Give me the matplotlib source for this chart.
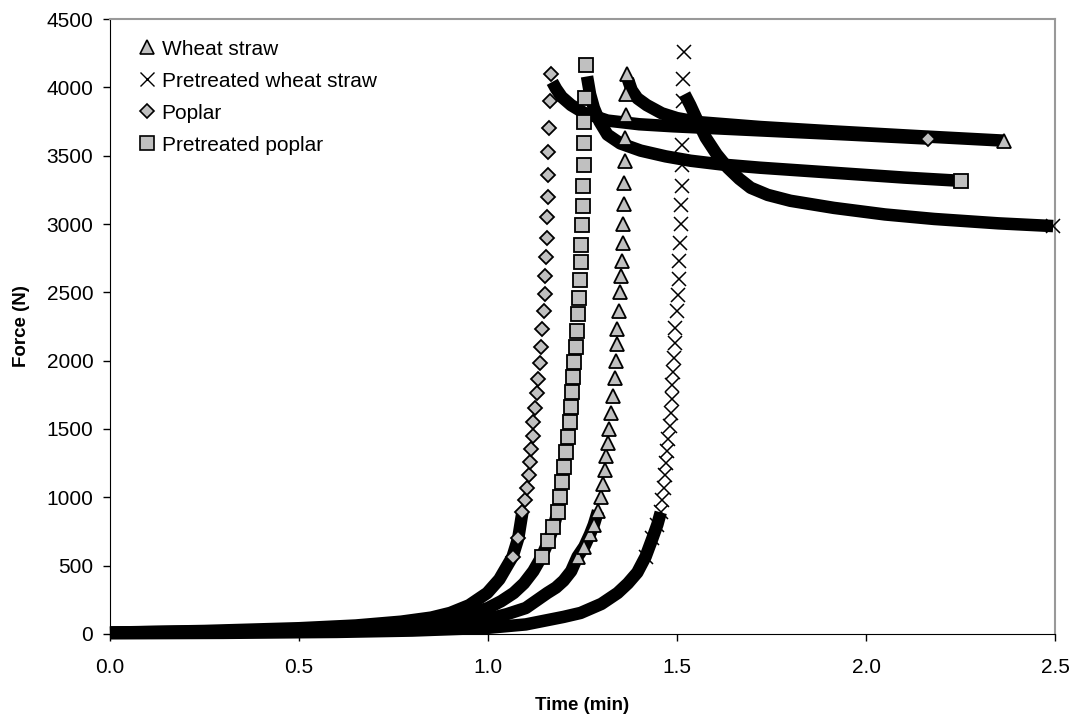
import matplotlib
matplotlib.use("Agg")
import matplotlib.pyplot as plt
import numpy as np

plt.rcParams['font.family'] = ['Liberation Sans', 'DejaVu Sans']

# Datos (tiempo en min, fuerza en N)
# Wheat straw
ws_t = [0.0, 0.3, 0.6, 0.8, 0.9, 1.0, 1.05, 1.1, 1.157, 1.18, 1.2, 1.22, 1.237, 1.255,
        1.27, 1.28, 1.291,
        1.298, 1.305, 1.309, 1.313, 1.317, 1.321, 1.326, 1.330, 1.335, 1.338, 1.340,
        1.342, 1.346, 1.349, 1.352, 1.355, 1.357, 1.358, 1.359, 1.360, 1.362, 1.363,
        1.365, 1.366, 1.367,
        1.37, 1.38, 1.395, 1.42, 1.46, 1.5, 1.56, 1.72, 1.9, 2.16, 2.365]
ws_f = [10, 15, 30, 55, 75, 110, 145, 190, 300, 340, 390, 460, 566, 640,
        730, 800, 900,
        1000, 1100, 1200, 1300, 1400, 1500, 1620, 1740, 1870, 2000, 2120,
        2230, 2360, 2500, 2620, 2730, 2860, 3000, 3150, 3300, 3460, 3630,
        3800, 3950, 4100,
        4060, 3980, 3920, 3870, 3810, 3775, 3745, 3710, 3680, 3640, 3610]

# Pretreated wheat straw
pws_t = [0.0, 0.3, 0.6, 0.8, 1.0, 1.1, 1.2, 1.245, 1.3, 1.343, 1.37, 1.395, 1.417,
         1.435, 1.448, 1.457,
         1.461, 1.465, 1.468, 1.471, 1.474, 1.477, 1.482, 1.484, 1.486, 1.488, 1.490,
         1.492, 1.494, 1.496, 1.499, 1.502, 1.504, 1.506, 1.508, 1.510, 1.511, 1.512,
         1.513, 1.514, 1.515, 1.516, 1.517, 1.518,
         1.52, 1.535, 1.555, 1.576, 1.605, 1.634, 1.665, 1.695, 1.74, 1.8, 1.915,
         2.05, 2.18, 2.35, 2.495]
pws_f = [5, 8, 15, 25, 45, 70, 125, 154, 220, 300, 370, 450, 566,
         700, 800, 890,
         980, 1070, 1160, 1250, 1340, 1430, 1520, 1620, 1720, 1820, 1920,
         2020, 2130, 2240, 2360, 2480, 2600, 2730, 2860, 3000, 3140, 3280,
         3430, 3580, 3740, 3900, 4060, 4260,
         3950, 3870, 3750, 3632, 3510, 3412, 3330, 3265, 3213, 3170, 3118,
         3070, 3037, 3005, 2985]

# Poplar
pop_t = [0.0, 0.25, 0.5, 0.65, 0.77, 0.85, 0.9, 0.95, 0.998, 1.03, 1.065, 1.08, 1.091,
         1.097, 1.103, 1.108, 1.112, 1.115, 1.118, 1.120, 1.125, 1.129, 1.133, 1.137,
         1.140, 1.144, 1.147, 1.150, 1.152, 1.154, 1.156, 1.157, 1.158, 1.159, 1.160,
         1.161, 1.163, 1.167,
         1.17, 1.18, 1.195, 1.22, 1.253, 1.316, 1.4, 1.49, 1.72, 1.95, 2.164]
pop_f = [10, 22, 42, 62, 90, 120, 154, 210, 300, 400, 566, 700, 890,
         980, 1070, 1160, 1257, 1350, 1450, 1551, 1650, 1760, 1868, 1980,
         2100, 2230, 2360, 2490, 2620, 2760, 2900, 3050, 3200, 3360, 3530,
         3706, 3900, 4100,
         4040, 3990, 3930, 3870, 3815, 3757, 3730, 3715, 3685, 3655, 3625]

# Pretreated poplar
ppop_t = [0.0, 0.3, 0.6, 0.8, 0.9, 0.962, 1.0, 1.035, 1.068, 1.095, 1.12, 1.142, 1.16,
          1.173, 1.184,
          1.190, 1.196, 1.202, 1.207, 1.212, 1.218, 1.220, 1.222, 1.224, 1.228, 1.232,
          1.235, 1.237, 1.240, 1.243, 1.245, 1.247, 1.249, 1.251, 1.252, 1.253, 1.254,
          1.255, 1.256, 1.258,
          1.262, 1.27, 1.28, 1.295, 1.316, 1.35, 1.404, 1.47, 1.536, 1.62, 1.72, 1.915,
          2.1, 2.251]
ppop_f = [10, 20, 40, 75, 110, 154, 190, 240, 300, 370, 460, 566, 680,
          780, 890,
          1000, 1110, 1220, 1330, 1440, 1550, 1660, 1770, 1880, 1990, 2100,
          2220, 2340, 2460, 2590, 2720, 2850, 2990, 3130, 3280, 3430, 3590,
          3750, 3920, 4160,
          4080, 3950, 3850, 3750, 3654, 3590, 3537, 3495, 3463, 3435, 3412, 3375,
          3340, 3316]

series = [
    ("Wheat straw", ws_t, ws_f, "^", 10.5),
    ("Pretreated wheat straw", pws_t, pws_f, "x", 9.5),
    ("Poplar", pop_t, pop_f, "D", 7.5),
    ("Pretreated poplar", ppop_t, ppop_f, "s", 9.5),
]

fig = plt.figure(figsize=(10.77, 7.21), dpi=100)
ax = fig.add_axes([0.1021, 0.1207, 0.8775, 0.8529])

gris = "#C0C0C0"
umbral = 890   # por debajo los marcadores forman una banda negra
desde = 560    # marcadores visibles a partir de esta fuerza
handles = []
for nombre, t, f, mk, ms in series:
    t = np.array(t)
    f = np.array(f)
    pico = int(np.argmax(f))
    codo = int(np.where(f >= umbral)[0][0])
    ini = int(np.where(f >= desde)[0][0])
    # banda negra: inicio y caida despues del pico
    ax.plot(t[:codo + 1], f[:codo + 1], color="black", lw=9, solid_capstyle="butt",
            solid_joinstyle="round", clip_on=False, zorder=2)
    ax.plot(t[pico + 1:], f[pico + 1:], color="black", lw=9, solid_capstyle="butt",
            solid_joinstyle="round", clip_on=False, zorder=2)
    # marcadores visibles en la subida y al final
    idx = list(range(ini, pico + 1)) + [len(f) - 1]
    if mk == "x":
        ax.plot(t[idx], f[idx], ls="none", marker=mk, ms=ms, mew=1.1, color="black",
                clip_on=False, zorder=3)
    else:
        ax.plot(t[idx], f[idx], ls="none", marker=mk, ms=ms, mfc=gris, mec="black",
                mew=1.3, clip_on=False, zorder=3)
    h, = ax.plot([], [], ls="none", marker=mk, ms=ms, mfc=gris, mec="black",
                 mew=1.2 if mk != "x" else 1.0, label=nombre)
    handles.append(h)

ax.set_xlim(0, 2.5)
ax.set_ylim(0, 4500)
ax.set_xticks(np.arange(0, 2.51, 0.5))
ax.set_xticklabels([f"{v:.1f}" for v in np.arange(0, 2.51, 0.5)])
ax.set_yticks(np.arange(0, 4501, 500))

ax.tick_params(axis="both", direction="out", length=5, width=1, labelsize=15)
ax.tick_params(axis="y", pad=7)
ax.tick_params(axis="x", pad=12)
ax.tick_params(top=False, right=False)

ax.spines["top"].set_color("#999999")
ax.spines["right"].set_color("#999999")
ax.spines["top"].set_linewidth(1.5)
ax.spines["right"].set_linewidth(1.5)

ax.set_xlabel("Time (min)", fontsize=13.5, fontweight="bold", labelpad=15)
ax.set_ylabel("Force (N)", fontsize=13.5, fontweight="bold", labelpad=12)

ax.legend(handles=handles, loc="upper left", bbox_to_anchor=(0.015, 0.99), frameon=False,
          fontsize=15, handlelength=0.8, handletextpad=0.3, labelspacing=0.62,
          borderaxespad=0.3)

fig.savefig("out.png", dpi=100)
